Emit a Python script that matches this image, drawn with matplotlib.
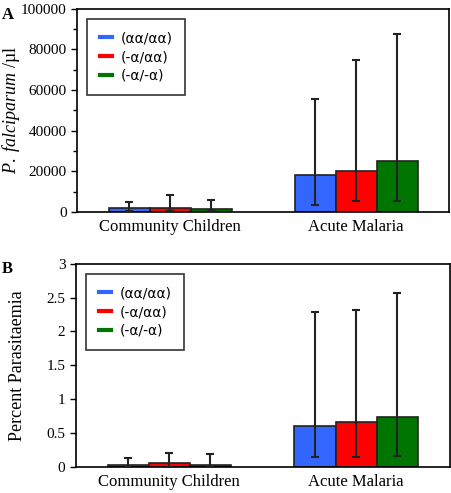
import matplotlib.pyplot as plt
import numpy as np
from matplotlib.lines import Line2D

groups = ['Community Children', 'Acute Malaria']
genotypes = ['(\u03b1\u03b1/\u03b1\u03b1)', '(-\u03b1/\u03b1\u03b1)', '(-\u03b1/-\u03b1)']
colors = ['#3366ff', '#ff0000', '#007500']

# panel A: parasites per ul (bar, lower, upper) per genotype, groups in order
dens_mean = [[2000, 18000], [2000, 20300], [1500, 25100]]
dens_low = [[300, 3600], [300, 5600], [300, 5600]]
dens_high = [[4900, 55500], [8400, 74900], [5900, 87800]]

# panel B: percent parasitaemia
pct_mean = [[0.03, 0.60], [0.05, 0.67], [0.03, 0.74]]
pct_low = [[0.0, 0.14], [0.0, 0.14], [0.0, 0.16]]
pct_high = [[0.13, 2.29], [0.21, 2.31], [0.19, 2.57]]

plt.rcParams['font.family'] = 'Liberation Serif'
plt.rcParams['mathtext.fontset'] = 'custom'
plt.rcParams['mathtext.it'] = 'Liberation Serif:italic'
plt.rcParams['mathtext.rm'] = 'Liberation Serif'

fig = plt.figure(figsize=(4.51, 4.93), dpi=100)
axA = fig.add_axes([0.171, 0.570, 0.825, 0.412])
axB = fig.add_axes([0.168, 0.053, 0.829, 0.412])

x = np.arange(len(groups))
w = 0.22


def draw(ax, mean, low, high):
    for i in range(3):
        m = np.array(mean[i])
        lo = m - np.array(low[i])
        hi = np.array(high[i]) - m
        ax.bar(x + (i - 1) * w, m, w, color=colors[i], edgecolor='#222222', linewidth=1.2, zorder=2)
        ax.errorbar(x + (i - 1) * w, m, yerr=[lo, hi], fmt='none', ecolor='#222222',
                    elinewidth=1.5, capsize=3, capthick=1.5, zorder=3)
    ax.set_xlim(-0.5, 1.5)
    ax.set_xticks(x)
    ax.set_xticklabels(groups, fontsize=12)
    ax.tick_params(axis='x', length=0, pad=5)
    ax.tick_params(axis='y', labelsize=11, direction='out', length=4, width=1)
    for s in ax.spines.values():
        s.set_linewidth(1.2)
    handles = [Line2D([0], [0], color=c, lw=3) for c in colors]
    leg = ax.legend(handles, genotypes, loc='upper left', bbox_to_anchor=(0.02, 0.965),
                    frameon=True, fancybox=False, edgecolor='black', handlelength=0.9,
                    prop={'family': 'DejaVu Sans', 'size': 10}, borderpad=0.9,
                    labelspacing=0.35, handletextpad=0.6, borderaxespad=0.2)
    leg.get_frame().set_linewidth(1.2)


draw(axA, dens_mean, dens_low, dens_high)
axA.set_ylim(0, 100000)
axA.set_yticks(np.arange(0, 100001, 20000))
axA.set_yticks(np.arange(10000, 100000, 20000), minor=True)
axA.tick_params(axis='y', which='minor', length=3, width=1)
axA.set_ylabel('$\\it{P.\\ falciparum}$ /\u00b5l', fontsize=13)
axA.yaxis.set_label_coords(-0.148, 0.5)

draw(axB, pct_mean, pct_low, pct_high)
axB.set_ylim(0, 3)
axB.set_yticks(np.arange(0, 3.01, 0.5))
axB.set_yticklabels(['0', '0.5', '1', '1.5', '2', '2.5', '3'])
axB.set_ylabel('Percent Parasitaemia', fontsize=13)
axB.yaxis.set_label_coords(-0.134, 0.5)

fig.text(0.003, 0.985, 'A', fontsize=12, fontweight='bold', va='top')
fig.text(0.003, 0.47, 'B', fontsize=12, fontweight='bold', va='top')

fig.savefig('out.png', dpi=100)
